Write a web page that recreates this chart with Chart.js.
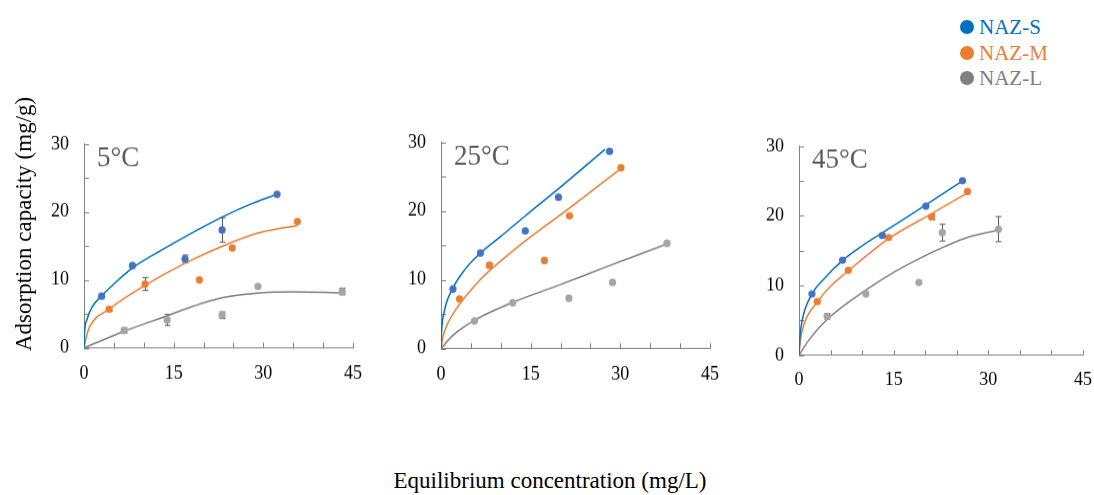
<!DOCTYPE html>
<html>
<head>
<meta charset="utf-8">
<script src="https://cdn.jsdelivr.net/npm/chart.js@4.4.1/dist/chart.umd.min.js"></script>
<style>
  body { margin: 0; background: #fff; width: 1094px; height: 495px; position: relative; overflow: hidden; font-family: "Liberation Serif", serif; }
  canvas { position: absolute; }
  .leg { position: absolute; left: 960px; font-size: 21px; line-height: 21px; white-space: nowrap; }
  .leg span { display: inline-block; width: 14px; height: 14px; border-radius: 50%; vertical-align: 0px; margin-right: 5px; }
  #ytitle { position: absolute; left: 24px; top: 224px; font-size: 23px; white-space: nowrap; transform: translate(-50%, -50%) rotate(-90deg); }
  #xtitle { position: absolute; left: 550px; top: 481px; font-size: 23px; white-space: nowrap; transform: translate(-50%, -50%); }
</style>
</head>
<body>
<canvas id="c0" width="400" height="300"></canvas>
<canvas id="c1" width="400" height="300"></canvas>
<canvas id="c2" width="400" height="300"></canvas>
<div id="legend"></div>
<div id="ytitle">Adsorption capacity (mg/g)</div>
<div id="xtitle">Equilibrium concentration (mg/L)</div>
<script>
// Datos
const temperaturas = ['5°C', '25°C', '45°C'];
const series = ['NAZ-S', 'NAZ-M', 'NAZ-L'];
const xTicks = [0, 15, 30, 45];
const yTicks = [0, 10, 20, 30];

// 5°C - puntos medidos
const s5x = [2.95, 8.1, 16.9, 23.1, 32.3];
const s5y = [7.6, 12.1, 13.1, 17.35, 22.6];
const s5e = [0, 0, 0.55, 1.8, 0];
const m5x = [4.2, 10.2, 19.3, 24.8, 35.7];
const m5y = [5.7, 9.4, 10.0, 14.7, 18.6];
const m5e = [0.3, 0.95, 0, 0, 0];
const l5x = [6.7, 13.9, 23.1, 29.1, 43.2];
const l5y = [2.55, 4.1, 4.8, 9.05, 8.3];
const l5e = [0.4, 0.8, 0.5, 0, 0.5];
// 5°C - curvas ajustadas
const s5fx = [0, 0.1, 0.5, 1.5, 3, 5, 8, 12, 17, 23, 28, 32.3];
const s5fy = [0, 2.3, 4.2, 6.2, 7.7, 9.4, 11.7, 13.9, 16.4, 19.2, 21.2, 22.6];
const m5fx = [0, 0.45, 1, 4.2, 10.2, 17, 24.9, 30, 35.7];
const m5fy = [0, 1.8, 3.2, 5.7, 9.2, 12.5, 15.6, 17.1, 18.0];
const l5fx = [0, 6.6, 14, 18.5, 23.2, 29.5, 35, 43.2];
const l5fy = [0, 2.4, 4.75, 6.2, 7.4, 8.1, 8.25, 8.1];

// 25°C - puntos medidos
const s25x = [2.0, 6.6, 14.1, 19.65, 28.2];
const s25y = [8.65, 13.9, 17.1, 22.0, 28.7];
const s25e = [0, 0, 0, 0, 0];
const m25x = [3.1, 8.1, 17.3, 21.5, 30.1];
const m25y = [7.2, 12.1, 12.8, 19.3, 26.3];
const m25e = [0, 0.3, 0, 0, 0];
const l25x = [5.6, 12.0, 21.4, 28.7, 37.8];
const l25y = [4.0, 6.65, 7.3, 9.6, 15.3];
const l25e = [0, 0, 0, 0, 0];
// 25°C - curvas ajustadas
const s25fx = [0, 0.1, 0.5, 2, 4, 6.6, 10, 14.1, 19.6, 27.45];
const s25fy = [0, 2.5, 5.2, 8.8, 11.5, 13.9, 16.3, 19.3, 23.2, 29.0];
const m25fx = [0, 0.3, 1, 3, 6.56, 8.1, 13, 21.5, 29.7];
const m25fy = [0, 1.6, 3.4, 6.3, 10.0, 11.3, 14.9, 20.45, 25.9];
const l25fx = [0, 2, 5.6, 12, 20, 28, 37.8];
const l25fy = [0, 1.9, 4.1, 6.7, 9.3, 12.0, 15.2];

// 45°C - puntos medidos
const s45x = [2.05, 6.9, 13.2, 20.1, 25.9];
const s45y = [8.8, 13.65, 17.2, 21.4, 25.05];
const s45e = [0, 0, 0, 0, 0];
const m45x = [2.9, 7.8, 14.2, 21.0, 26.7];
const m45y = [7.7, 12.2, 16.9, 19.85, 23.5];
const m45e = [0, 0, 0, 0.4, 0];
const l45x = [4.45, 10.6, 19.0, 22.7, 31.6];
const l45y = [5.6, 8.8, 10.45, 17.6, 18.1];
const l45e = [0.4, 0, 0, 1.2, 1.8];
// 45°C - curvas ajustadas
const s45fx = [0, 0.15, 0.5, 2.06, 4, 6.9, 10, 13.25, 20.16, 25.5];
const s45fy = [0, 2.6, 5.0, 8.8, 11.0, 13.6, 15.7, 17.6, 21.6, 24.8];
const m45fx = [0, 0.2, 0.8, 2.95, 5, 7.8, 14.3, 21, 26.7];
const m45fy = [0, 2.0, 4.5, 7.7, 9.9, 12.1, 16.8, 20.3, 23.3];
const l45fx = [0, 1.5, 4.4, 10.5, 15.2, 20, 23.2, 27, 31.6];
const l45fy = [0, 2.1, 5.1, 9.3, 12.0, 14.3, 15.65, 17.0, 17.95];

const colorPunto = ['#4472C4', '#ED7D31', '#A5A5A5'];
const colorLinea = ['#0070C0', '#ED7D31', '#7F7F7F'];
const colorLeyenda = ['#0070C0', '#ED7D31', '#7F7F7F'];

const paneles = [
    { puntos: [[s5x, s5y, s5e], [m5x, m5y, m5e], [l5x, l5y, l5e]],
      curvas: [[s5fx, s5fy], [m5fx, m5fy], [l5fx, l5fy]],
      area: { left: 84, top: 143, right: 353, bottom: 349 } },
    { puntos: [[s25x, s25y, s25e], [m25x, m25y, m25e], [l25x, l25y, l25e]],
      curvas: [[s25fx, s25fy], [m25fx, m25fy], [l25fx, l25fy]],
      area: { left: 441, top: 141, right: 710, bottom: 350 } },
    { puntos: [[s45x, s45y, s45e], [m45x, m45y, m45e], [l45x, l45y, l45e]],
      curvas: [[s45fx, s45fy], [m45fx, m45fy], [l45fx, l45fy]],
      area: { left: 799, top: 146, right: 1083, bottom: 355 } }
];

const ANCHO_Y = 50, ALTO_X = 36;
const fuente = '"Liberation Serif", "Times New Roman", serif';

function juntar(xs, ys) {
    return xs.map((x, i) => ({ x: x, y: ys[i] }));
}

// Barras de error, marcas hacia dentro y rótulo de temperatura
const pluginExtras = {
    id: 'extras',
    beforeDatasetsDraw(chart) {
        const ctx = chart.ctx;
        const xs = chart.scales.x, ys = chart.scales.y;
        ctx.save();
        ctx.strokeStyle = '#808080';
        ctx.lineWidth = 1;
        // marcas de los ejes
        xs.ticks.forEach(t => {
            const px = Math.round(xs.getPixelForValue(t.value)) + 0.5;
            ctx.beginPath();
            ctx.moveTo(px, ys.bottom);
            ctx.lineTo(px, ys.bottom - 5);
            ctx.stroke();
        });
        ys.ticks.forEach(t => {
            const py = Math.round(ys.getPixelForValue(t.value)) + 0.5;
            ctx.beginPath();
            ctx.moveTo(xs.left, py);
            ctx.lineTo(xs.left + 5, py);
            ctx.stroke();
        });
        // barras de error
        ctx.strokeStyle = '#595959';
        chart.data.datasets.forEach(ds => {
            if (!ds.errores) return;
            ds.data.forEach((p, i) => {
                const e = ds.errores[i];
                if (!e) return;
                const px = Math.round(xs.getPixelForValue(p.x)) + 0.5;
                const y1 = ys.getPixelForValue(p.y + e);
                const y2 = ys.getPixelForValue(p.y - e);
                ctx.beginPath();
                ctx.moveTo(px, y1); ctx.lineTo(px, y2);
                ctx.moveTo(px - 3, y1); ctx.lineTo(px + 3, y1);
                ctx.moveTo(px - 3, y2); ctx.lineTo(px + 3, y2);
                ctx.stroke();
            });
        });
        ctx.restore();
    },
    afterDraw(chart, args, opts) {
        const ctx = chart.ctx;
        ctx.save();
        ctx.fillStyle = '#595959';
        ctx.font = '27px ' + fuente;
        ctx.textBaseline = 'top';
        ctx.fillText(opts.texto, chart.chartArea.left + 13, chart.chartArea.top + 1);
        ctx.restore();
    }
};

function crearPanel(i) {
    const p = paneles[i];
    const a = p.area;
    const canvas = document.getElementById('c' + i);

    const datasets = [];
    p.curvas.forEach((c, k) => {
        datasets.push({
            label: series[k] + ' ajuste',
            data: juntar(c[0], c[1]),
            showLine: true,
            borderColor: colorLinea[k],
            borderWidth: 1.5,
            pointRadius: 0,
            cubicInterpolationMode: 'monotone',
            order: 2
        });
    });
    p.puntos.forEach((pt, k) => {
        datasets.push({
            label: series[k],
            data: juntar(pt[0], pt[1]),
            errores: pt[2],
            showLine: false,
            backgroundColor: colorPunto[k],
            borderWidth: 0,
            pointRadius: 3.6,
            order: 1
        });
    });

    const chart = new Chart(canvas.getContext('2d'), {
        type: 'scatter',
        data: { datasets: datasets },
        plugins: [pluginExtras],
        options: {
            responsive: false,
            animation: false,
            layout: { padding: 0 },
            plugins: {
                legend: { display: false },
                tooltip: { enabled: false },
                extras: { texto: temperaturas[i] }
            },
            scales: {
                x: {
                    type: 'linear', min: 0, max: 45,
                    afterFit: s => { s.height = ALTO_X; },
                    border: { color: '#808080', width: 1 },
                    grid: { display: false, drawTicks: false },
                    ticks: {
                        stepSize: 5, padding: 14, color: '#000', maxRotation: 0,
                        font: { family: fuente, size: 18 },
                        callback: v => xTicks.includes(v) ? v : ''
                    }
                },
                y: {
                    type: 'linear', min: 0, max: 30,
                    afterFit: s => { s.width = ANCHO_Y; },
                    border: { color: '#808080', width: 1 },
                    grid: { display: false, drawTicks: false },
                    ticks: {
                        stepSize: 5, padding: 15, color: '#000',
                        font: { family: fuente, size: 18 },
                        callback: v => yTicks.includes(v) ? v : ''
                    }
                }
            }
        }
    });

    // Ajustar el lienzo para que el área del gráfico caiga donde en la figura
    const ca = chart.chartArea;
    const L = ca.left, T = ca.top;
    const R = chart.width - ca.right, B = chart.height - ca.bottom;
    const w = Math.round(a.right - a.left + L + R);
    const h = Math.round(a.bottom - a.top + T + B);
    chart.resize(w, h);
    canvas.style.width = w + 'px';
    canvas.style.height = h + 'px';
    canvas.style.left = Math.round(a.left - chart.chartArea.left) + 'px';
    canvas.style.top = Math.round(a.top - chart.chartArea.top) + 'px';
}

// Leyenda
function crearLeyenda() {
    const cont = document.getElementById('legend');
    series.forEach((nombre, k) => {
        const d = document.createElement('div');
        d.className = 'leg';
        d.style.top = (17 + k * 25.7) + 'px';
        d.style.color = colorLeyenda[k];
        d.innerHTML = `<span style="background:${colorLinea[k]}"></span>${nombre}`;
        cont.appendChild(d);
    });
}

crearPanel(0);
crearPanel(1);
crearPanel(2);
crearLeyenda();
</script>
</body>
</html>
